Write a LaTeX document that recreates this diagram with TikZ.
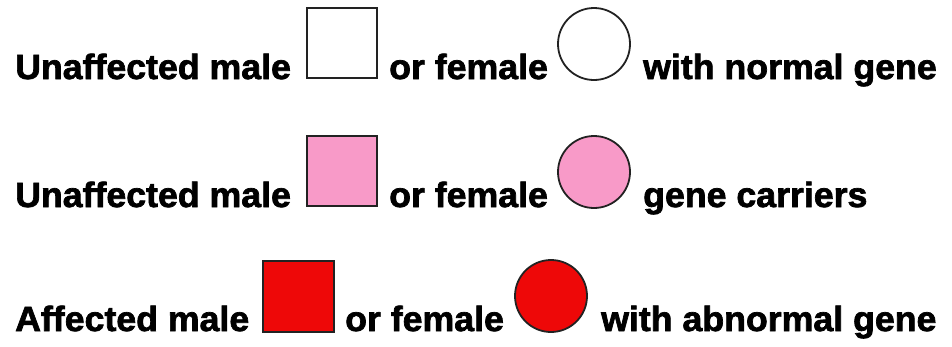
\documentclass[tikz,border=0pt]{standalone}
\usepackage{fontspec}
\setmainfont{Liberation Sans}[BoldFeatures={FakeBold=2,FakeStretch=1.02}]
\definecolor{carrier}{HTML}{F89AC8}
\definecolor{affected}{HTML}{EE0808}
\definecolor{edge}{HTML}{222222}
\tikzset{
  lbl/.style={anchor=base west, inner sep=0pt, font=\fontsize{35}{40}\selectfont\bfseries},
  sym/.style={draw=edge, line width=1.8pt},
}
\begin{document}
\begin{tikzpicture}[x=1pt,y=-1pt]
\useasboundingbox (0,0) rectangle (952,346);
% row 1
\node[lbl] (u1) at (15,79) {Unaffected male};
\draw[sym, fill=white] (307,8) rectangle (377,78);
\node[lbl] (f1) at (389,79) {or female};
\draw[sym, fill=white] (594,44) circle (36);
\node[lbl] (g1) at (643,79) {with normal gene};
% row 2
\node[lbl] (u2) at (15,207) {Unaffected male};
\draw[sym, fill=carrier] (307,136) rectangle (377,206);
\node[lbl] (f2) at (389,207) {or female};
\draw[sym, fill=carrier] (594,172) circle (36);
\node[lbl] (g2) at (643,207) {gene carriers};
% row 3
\node[lbl] (u3) at (15,331) {Affected male};
\draw[sym, fill=affected] (263,261) rectangle (334,332);
\node[lbl] (f3) at (345,331) {or female};
\draw[sym, fill=affected] (551,296) circle (36);
\node[lbl] (g3) at (601,331) {with abnormal gene};
\end{tikzpicture}
\end{document}
